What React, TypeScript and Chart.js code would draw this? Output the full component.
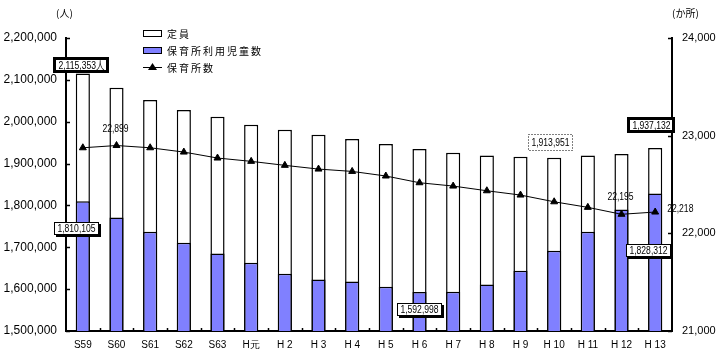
import React, { useEffect, useRef } from "react";
import { Chart, registerables } from "chart.js";

Chart.register(...registerables);

const categories = ["S59", "S60", "S61", "S62", "S63", "H元", "H 2", "H 3", "H 4", "H 5", "H 6", "H 7", "H 8", "H 9", "H 10", "H 11", "H 12", "H 13"];
const capacity = [2115353, 2081000, 2052000, 2028000, 2012000, 1993000, 1981000, 1969000, 1959000, 1947000, 1935000, 1926000, 1919000, 1916000, 1913951, 1919000, 1923000, 1937132];
const children = [1810105, 1771000, 1737000, 1711000, 1685000, 1663000, 1637000, 1623000, 1618000, 1606000, 1592998, 1594000, 1611000, 1644000, 1692000, 1737000, 1790000, 1828312];
const nurseries = [22876, 22899, 22876, 22832, 22771, 22737, 22696, 22658, 22634, 22587, 22518, 22484, 22436, 22392, 22323, 22266, 22195, 22218];
const leftTickLabels = ["1,500,000", "1,600,000", "1,700,000", "1,800,000", "1,900,000", "2,000,000", "2,100,000", "2,200,000"];
const rightTickLabels = ["21,000", "22,000", "23,000", "24,000"];
const seriesNames = ["定員", "保育所利用児童数", "保育所数"];
const leftUnit = "(人)";
const rightUnit = "(か所)";

const SANS = '"Liberation Sans", Arial, sans-serif';
const CJK = '"Noto Sans CJK JP", "Noto Sans CJK SC", sans-serif';
const BLUE = "#8080ff";

function fmt(n: number) {
  return n.toLocaleString("en-US");
}

const decorPlugin = {
  id: "decor",
  afterDraw(chart: any) {
    const ctx = chart.ctx as CanvasRenderingContext2D;
    const ca = chart.chartArea;
    const xs = chart.scales.x;
    const ys = chart.scales.y;
    const y2 = chart.scales.y2;
    ctx.save();
    ctx.strokeStyle = "#000";
    ctx.lineWidth = 1.5;
    // inward ticks
    ys.ticks.forEach((_t: any, i: number) => {
      const py = Math.round(ys.getPixelForTick(i)) + 0.5;
      ctx.beginPath();
      ctx.moveTo(ca.left, py);
      ctx.lineTo(ca.left + 4, py);
      ctx.stroke();
    });
    y2.ticks.forEach((_t: any, i: number) => {
      const py = Math.round(y2.getPixelForTick(i)) + 0.5;
      ctx.beginPath();
      ctx.moveTo(ca.right - 4, py);
      ctx.lineTo(ca.right, py);
      ctx.stroke();
    });
    for (let i = 1; i < categories.length; i++) {
      const px = Math.round((xs.getPixelForValue(i - 1) + xs.getPixelForValue(i)) / 2) + 0.5;
      ctx.beginPath();
      ctx.moveTo(px, ca.bottom);
      ctx.lineTo(px, ca.bottom - 3);
      ctx.stroke();
    }

    // unit labels
    (ctx as any).letterSpacing = "0px";
    ctx.fillStyle = "#000";
    ctx.font = `10px ${CJK}`;
    ctx.textBaseline = "middle";
    ctx.textAlign = "left";
    ctx.fillText(leftUnit, 56, 13);
    ctx.fillText(rightUnit, 672, 13);

    // legend
    (ctx as any).letterSpacing = "2px";
    ctx.font = `10px ${CJK}`;
    const lx = 143;
    const rows = [33, 50, 67];
    ctx.lineWidth = 1;
    ctx.fillStyle = "#fff";
    ctx.fillRect(lx, rows[0] - 3, 19, 7);
    ctx.strokeRect(lx + 0.5, rows[0] - 2.5, 18, 6);
    ctx.fillStyle = BLUE;
    ctx.fillRect(lx, rows[1] - 3, 19, 7);
    ctx.strokeRect(lx + 0.5, rows[1] - 2.5, 18, 6);
    ctx.beginPath();
    ctx.moveTo(lx, rows[2] + 0.5);
    ctx.lineTo(lx + 19, rows[2] + 0.5);
    ctx.stroke();
    ctx.fillStyle = "#000";
    ctx.beginPath();
    ctx.moveTo(lx + 9.5, rows[2] - 4);
    ctx.lineTo(lx + 14, rows[2] + 3);
    ctx.lineTo(lx + 5, rows[2] + 3);
    ctx.closePath();
    ctx.fill();
    ctx.fillStyle = "#000";
    seriesNames.forEach((s, i) => ctx.fillText(s, 167, rows[i] + 1));

    // annotations
    const capMeta = chart.getDatasetMeta(2).data;
    const chMeta = chart.getDatasetMeta(1).data;
    const lnMeta = chart.getDatasetMeta(0).data;
    (ctx as any).letterSpacing = "0px";
    ctx.font = `11px ${SANS}`;
    const SX = 0.78;

    const narrowText = (text: string, x: number, y: number, align: "center" | "left") => {
      ctx.save();
      ctx.translate(x, y);
      ctx.scale(SX, 1);
      ctx.textAlign = align;
      ctx.textBaseline = "middle";
      ctx.fillStyle = "#000";
      ctx.fillText(text, 0, 0);
      ctx.restore();
    };

    const box = (cx: number, cy: number, text: string, style: "thick" | "shadow" | "dotted") => {
      const w = Math.round(ctx.measureText(text).width * SX + 6);
      const h = 12;
      const x0 = Math.round(cx - w / 2);
      const y0 = Math.round(cy - h / 2);
      ctx.fillStyle = "#fff";
      ctx.fillRect(x0, y0, w, h);
      ctx.strokeStyle = "#000";
      if (style === "thick") {
        ctx.lineWidth = 3;
        ctx.setLineDash([]);
        ctx.strokeRect(x0 - 0.5, y0 - 0.5, w + 1, h + 1);
      } else if (style === "shadow") {
        ctx.lineWidth = 1;
        ctx.setLineDash([]);
        ctx.strokeRect(x0 + 0.5, y0 + 0.5, w, h);
        ctx.lineWidth = 2;
        ctx.beginPath();
        ctx.moveTo(x0 + w + 2, y0 + 2);
        ctx.lineTo(x0 + w + 2, y0 + h + 2);
        ctx.lineTo(x0 + 2, y0 + h + 2);
        ctx.stroke();
      } else {
        ctx.lineWidth = 1;
        ctx.setLineDash([1, 2]);
        ctx.strokeRect(x0 + 0.5, y0 + 0.5, w, h + 4);
        ctx.setLineDash([]);
      }
      narrowText(text, x0 + w / 2 + 0.5, cy + 1 + (style === "dotted" ? 2 : 0), "center");
    };

    const last = categories.length - 1;
    box(capMeta[0].x - 2, capMeta[0].y - 8, fmt(capacity[0]) + "人", "thick");
    box(chMeta[0].x - 7, chMeta[0].y + 27, fmt(children[0]), "shadow");
    box(chMeta[10].x - 1, chMeta[10].y + 17, fmt(children[10]), "shadow");
    box(capMeta[14].x - 4, capMeta[14].y - 18, fmt(capacity[14]), "dotted");
    box(capMeta[last].x - 4, capMeta[last].y - 23, fmt(capacity[last]), "thick");
    box(chMeta[last].x - 7, chMeta[last].y + 56, fmt(children[last]), "shadow");

    narrowText(fmt(nurseries[1]), lnMeta[1].x - 1, lnMeta[1].y - 17, "center");
    narrowText(fmt(nurseries[16]), lnMeta[16].x - 1, lnMeta[16].y - 17, "center");
    narrowText(fmt(nurseries[last]), lnMeta[last].x + 12, lnMeta[last].y - 3, "left");
    ctx.restore();
  },
};

export default function App() {
  const ref = useRef<HTMLCanvasElement>(null);
  useEffect(() => {
    document.body.style.margin = "0";
    const canvas = ref.current!;
    const chart = new Chart(canvas, {
      type: "bar",
      data: {
        labels: categories,
        datasets: [
          {
            type: "line",
            label: seriesNames[2],
            data: nurseries,
            yAxisID: "y2",
            borderColor: "#000",
            borderWidth: 1,
            pointStyle: "triangle",
            pointRadius: 4,
            pointBackgroundColor: "#000",
            pointBorderColor: "#000",
            tension: 0,
            order: 0,
          } as any,
          {
            type: "bar",
            label: seriesNames[1],
            data: children,
            yAxisID: "y",
            backgroundColor: BLUE,
            borderColor: "#000",
            borderWidth: 1.5,
            grouped: false,
            barPercentage: 0.42,
            categoryPercentage: 1,
            order: 1,
          },
          {
            type: "bar",
            label: seriesNames[0],
            data: capacity,
            yAxisID: "y",
            backgroundColor: "#fff",
            borderColor: "#000",
            borderWidth: 1.5,
            grouped: false,
            barPercentage: 0.42,
            categoryPercentage: 1,
            order: 2,
          },
        ],
      },
      options: {
        animation: false,
        responsive: false,
        layout: { padding: { top: 38 } },
        plugins: { legend: { display: false }, tooltip: { enabled: false } },
        scales: {
          x: {
            offset: true,
            grid: { display: false, drawTicks: false },
            border: { color: "#000", width: 2 },
            ticks: { color: "#000", padding: 8, font: { size: 10, family: SANS }, maxRotation: 0, autoSkip: false },
            afterFit(s: any) { s.height = 26; },
          },
          y: {
            position: "left",
            min: 1500000,
            max: 2200000,
            grid: { display: false, drawTicks: false },
            border: { color: "#000", width: 2 },
            ticks: {
              stepSize: 100000,
              color: "#000",
              padding: 9,
              font: { size: 12, family: SANS },
              callback: (_v: any, i: number) => leftTickLabels[i],
            },
            afterFit(s: any) { s.width = 66; },
          },
          y2: {
            position: "right",
            min: 21000,
            max: 24000,
            grid: { display: false, drawTicks: false },
            border: { color: "#000", width: 2 },
            ticks: {
              stepSize: 1000,
              color: "#000",
              padding: 10,
              font: { size: 11, family: SANS },
              callback: (_v: any, i: number) => rightTickLabels[i],
            },
            afterFit(s: any) { s.width = 51; },
          },
        },
      },
      plugins: [decorPlugin],
    });
    return () => chart.destroy();
  }, []);
  return (
    <div style={{ position: "absolute", left: 0, top: 0, width: 723, height: 357, background: "#fff" }}>
      <canvas ref={ref} width={723} height={357} style={{ display: "block" }} />
    </div>
  );
}
